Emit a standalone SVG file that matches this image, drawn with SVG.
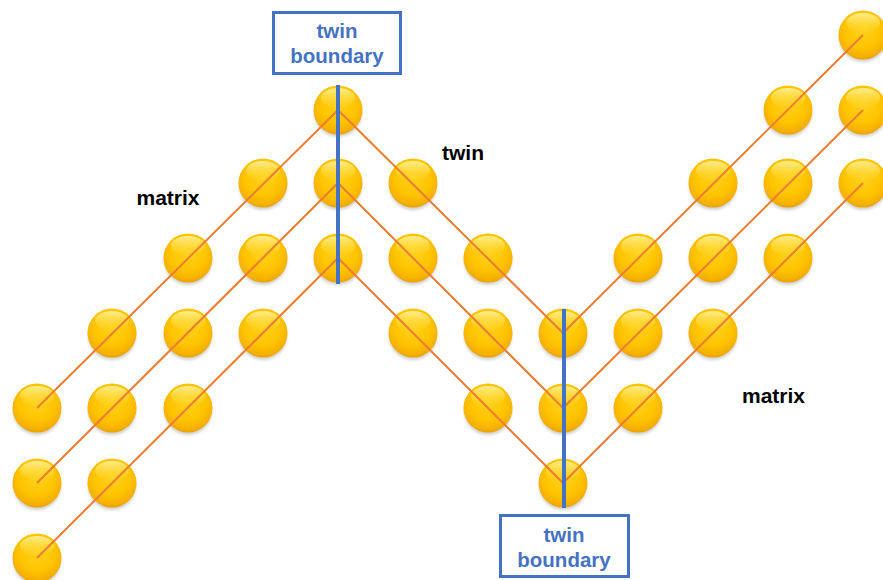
<svg xmlns="http://www.w3.org/2000/svg" width="883" height="580" viewBox="0 0 883 580">
  <defs>
    <radialGradient id="ballFill" cx="0.5" cy="0.38" r="0.62">
      <stop offset="0" stop-color="#FFD21F"/>
      <stop offset="0.6" stop-color="#FFC400"/>
      <stop offset="0.9" stop-color="#F5B000"/>
      <stop offset="1" stop-color="#E8A200"/>
    </radialGradient>
    <linearGradient id="ballShine" x1="0" y1="0" x2="0" y2="1">
      <stop offset="0" stop-color="#FFF3A0" stop-opacity="0.9"/>
      <stop offset="1" stop-color="#FFE040" stop-opacity="0"/>
    </linearGradient>
    <filter id="soft" x="-30%" y="-30%" width="160%" height="170%">
      <feGaussianBlur stdDeviation="1.5"/>
    </filter>
    <g id="ball">
      <circle cx="0" cy="3" r="24" fill="#000" opacity="0.18" filter="url(#soft)"/>
      <circle cx="0" cy="0" r="24.5" fill="url(#ballFill)"/>
      <ellipse cx="0" cy="-12" rx="17" ry="10" fill="url(#ballShine)"/>
    </g>
  </defs>
  <style>
    .chain { fill: none; stroke: #ED7D31; stroke-width: 2; }
    .tb { stroke: #4472C4; stroke-width: 4; }
    .box { fill: #FFFFFF; stroke: #4472C4; stroke-width: 3; }
    .boxText { font-family: "Liberation Sans", Arial, sans-serif; font-weight: bold; font-size: 20.5px; fill: #4472C4; text-anchor: middle; }
    .label { font-family: "Liberation Sans", Arial, sans-serif; font-weight: bold; font-size: 21px; fill: #000000; text-anchor: middle; }
  </style>
  <rect width="883" height="580" fill="#FFFFFF"/>

  <!-- atoms -->
  <g id="atoms">
    <use href="#ball" x="37" y="408"/><use href="#ball" x="37" y="483"/><use href="#ball" x="37" y="558"/>
    <use href="#ball" x="112" y="333"/><use href="#ball" x="112" y="408"/><use href="#ball" x="112" y="483"/>
    <use href="#ball" x="188" y="258"/><use href="#ball" x="188" y="333"/><use href="#ball" x="188" y="408"/>
    <use href="#ball" x="263" y="183"/><use href="#ball" x="263" y="258"/><use href="#ball" x="263" y="333"/>
    <use href="#ball" x="338" y="110"/><use href="#ball" x="338" y="183"/><use href="#ball" x="338" y="258"/>
    <use href="#ball" x="413" y="183"/><use href="#ball" x="413" y="258"/><use href="#ball" x="413" y="333"/>
    <use href="#ball" x="488" y="258"/><use href="#ball" x="488" y="333"/><use href="#ball" x="488" y="408"/>
    <use href="#ball" x="563" y="333"/><use href="#ball" x="563" y="408"/><use href="#ball" x="563" y="483"/>
    <use href="#ball" x="638" y="258"/><use href="#ball" x="638" y="333"/><use href="#ball" x="638" y="408"/>
    <use href="#ball" x="713" y="183"/><use href="#ball" x="713" y="258"/><use href="#ball" x="713" y="333"/>
    <use href="#ball" x="788" y="110"/><use href="#ball" x="788" y="183"/><use href="#ball" x="788" y="258"/>
    <use href="#ball" x="863" y="35"/><use href="#ball" x="863" y="110"/><use href="#ball" x="863" y="183"/>
  </g>

  <!-- lattice planes -->
  <g id="connectors">
    <polyline class="chain" points="37,408 338,110 563,333 863,35"/>
    <polyline class="chain" points="37,483 338,183 563,408 863,110"/>
    <polyline class="chain" points="37,558 338,258 563,483 863,183"/>
    <line class="tb" x1="338" y1="85" x2="338" y2="284"/>
    <line class="tb" x1="564" y1="309" x2="564" y2="508"/>
  </g>

  <g id="tb-top">
    <rect class="box" x="273.5" y="12.5" width="127" height="61"/>
    <text class="boxText" x="337" y="38">twin</text>
    <text class="boxText" x="337" y="63">boundary</text>
  </g>
  <g id="tb-bottom">
    <rect class="box" x="500.5" y="515.5" width="128" height="61"/>
    <text class="boxText" x="564" y="542">twin</text>
    <text class="boxText" x="564" y="567">boundary</text>
  </g>

  <g id="labels">
    <text class="label" x="168" y="205">matrix</text>
    <text class="label" x="463" y="160">twin</text>
    <text class="label" x="773.5" y="403">matrix</text>
  </g>
</svg>
